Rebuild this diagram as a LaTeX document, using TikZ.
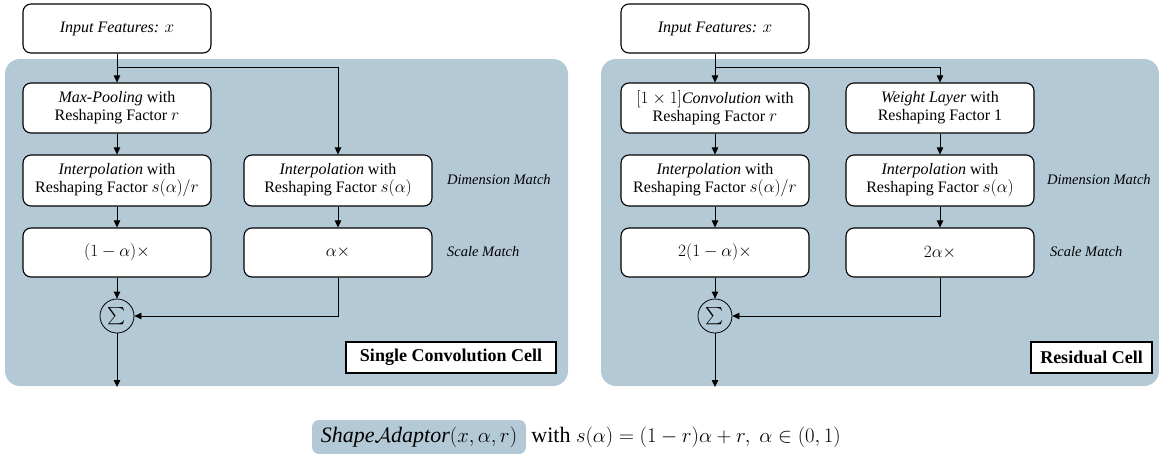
\documentclass[tikz,border=0pt]{standalone}
\usepackage{amsmath}
\usepackage{fontspec}
\setmainfont{Liberation Serif}
\usetikzlibrary{arrows.meta}
\definecolor{panel}{RGB}{180,201,214}
\begin{document}
\begin{tikzpicture}[x=1pt,y=-1pt,
  box/.style={draw, rounded corners=8pt, fill=white, line width=1.1pt,
    minimum width=188pt, minimum height=50pt, align=center,
    font=\fontsize{16}{18}\selectfont, inner sep=0pt},
  arr/.style={-{Triangle[length=7pt,width=6.5pt]}, line width=0.8pt},
  note/.style={font=\fontsize{14.5}{16}\selectfont\itshape, anchor=west, inner sep=0pt},
  lab/.style={draw, line width=1.1pt, fill=white,
    font=\fontsize{18}{20}\selectfont\bfseries, inner sep=0pt, minimum height=31pt},
  sumc/.style={draw, circle, line width=0.8pt, minimum size=34pt, inner sep=0pt,
    font=\fontsize{19}{21}\selectfont},
  captxt/.style={inner sep=0pt, font=\fontsize{22}{24}\selectfont}
]
\useasboundingbox (0,0) rectangle (1159,453);
% panels
\fill[panel, rounded corners=15pt] (5,59) rectangle (568,386);
\fill[panel, rounded corners=15pt] (601,59) rectangle (1159,386);

% ---------- left panel ----------
\node[box, minimum height=49pt] (in1) at (117,28.5) {\textit{Input Features: $x$}};
\node[box] (mp) at (117,108) {\textit{Max-Pooling} with\\Reshaping Factor $r$};
\node[box, minimum height=51pt] (ipl) at (117,180.5) {\textit{Interpolation} with\\Reshaping Factor $s(\alpha)/r$};
\node[box, minimum height=51pt] (ipr) at (338,180.5) {\textit{Interpolation} with\\Reshaping Factor $s(\alpha)$};
\node[box, minimum height=49pt] (sl) at (117,252.5) {$(1-\alpha)\times$};
\node[box, minimum height=49pt] (sr) at (338,252.5) {$\alpha\times$};
\node[sumc] (sum1) at (117,316) {$\textstyle\sum$};
\coordinate (br1) at (117,67);
\coordinate (out1) at (117,387);
\node[note] (dm1) at (447,180) {Dimension Match};
\node[note] (sm1) at (447,252) {Scale Match};
\node[lab, minimum width=210pt] (lab1) at (451,357.5) {Single Convolution Cell};

\draw[arr] (in1) -- (mp);
\draw[arr] (br1) -| (ipr);
\draw[arr] (mp) -- (ipl);
\draw[arr] (ipl) -- (sl);
\draw[arr] (ipr) -- (sr);
\draw[arr] (sl) -- (sum1);
\draw[arr] (sr.south) |- (sum1.east);
\draw[arr] (sum1) -- (out1);

% ---------- right panel ----------
\node[box, minimum height=49pt] (in2) at (715,28.5) {\textit{Input Features: $x$}};
\node[box] (cv) at (715,108) {$[1\times 1]$\textit{Convolution} with\\Reshaping Factor $r$};
\node[box] (wl) at (940,108) {\textit{Weight Layer} with\\Reshaping Factor 1};
\node[box, minimum height=51pt] (ip2l) at (715,180.5) {\textit{Interpolation} with\\Reshaping Factor $s(\alpha)/r$};
\node[box, minimum height=51pt] (ip2r) at (940,180.5) {\textit{Interpolation} with\\Reshaping Factor $s(\alpha)$};
\node[box, minimum height=49pt] (s2l) at (715,252.5) {$2(1-\alpha)\times$};
\node[box, minimum height=49pt] (s2r) at (940,252.5) {$2\alpha\times$};
\node[sumc] (sum2) at (715,316) {$\textstyle\sum$};
\coordinate (br2) at (715,67);
\coordinate (out2) at (715,387);
\node[note] (dm2) at (1047,180) {Dimension Match};
\node[note] (sm2) at (1050,252) {Scale Match};
\node[lab, minimum width=121pt] (lab2) at (1091.5,357.5) {Residual Cell};

\draw[arr] (in2) -- (cv);
\draw[arr] (br2) -| (wl);
\draw[arr] (cv) -- (ip2l);
\draw[arr] (wl) -- (ip2r);
\draw[arr] (ip2l) -- (s2l);
\draw[arr] (ip2r) -- (s2r);
\draw[arr] (s2l) -- (sum2);
\draw[arr] (s2r.south) |- (sum2.east);
\draw[arr] (sum2) -- (out2);

% ---------- caption ----------
\node[captxt, fill=panel, rounded corners=7pt, minimum width=214pt, minimum height=34pt]
  (sa) at (419,437) {$\mathit{Shape}\mathcal{A}\mathit{daptor}(x,\alpha,r)$};
\node[captxt, anchor=west] (cap) at ([xshift=5pt]sa.east)
  {with $s(\alpha)=(1-r)\alpha+r,\ \alpha\in(0,1)$};
\end{tikzpicture}
\end{document}
